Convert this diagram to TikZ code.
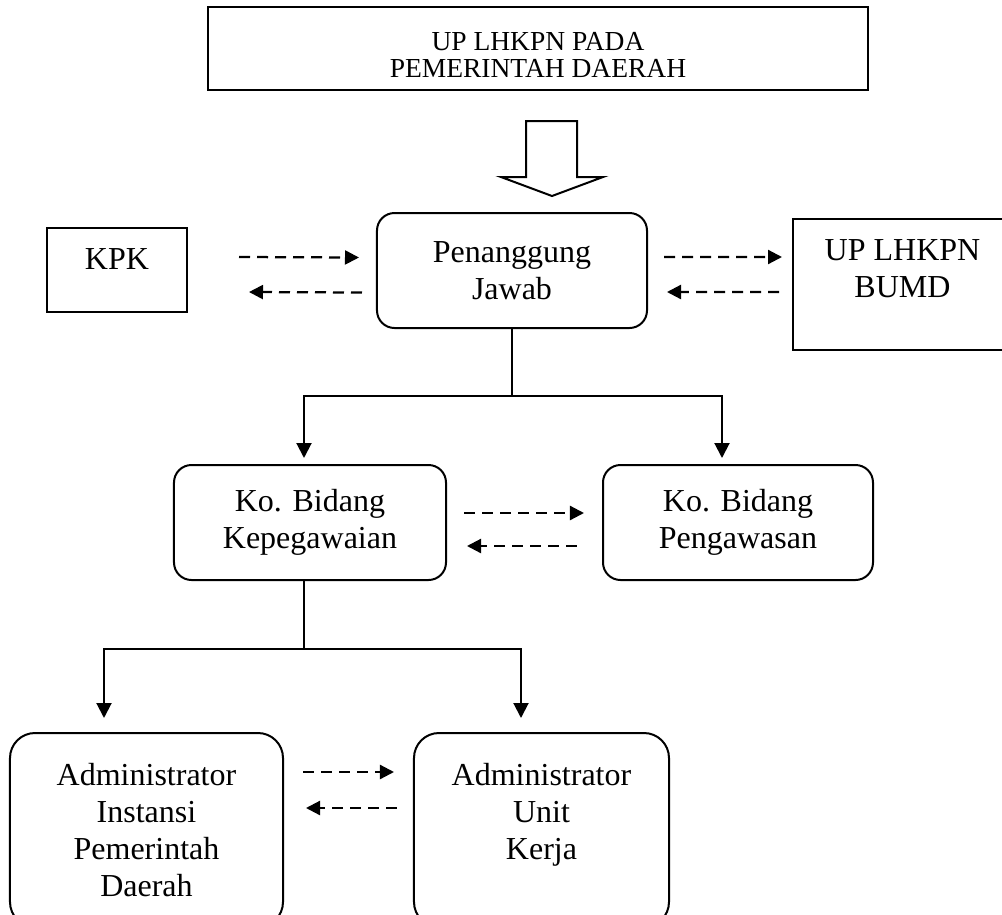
\documentclass[tikz,border=0pt]{standalone}
\usepackage{fontspec}
\setmainfont{Liberation Serif}
\usetikzlibrary{arrows.meta}
\newcommand{\topbox}[4]{\parbox[c][#1][t]{#2}{\centering\vspace*{#3}#4}}

\begin{document}
\begin{tikzpicture}[x=0.4pt,y=-0.4pt,%
    txt/.style={font=\fontsize{12.8}{14.8}\selectfont},%
    box/.style={txt,draw,line width=0.8pt,inner sep=0pt},%
    rbox/.style={txt,draw,line width=0.8pt,rounded corners=7pt,align=center},%
    tree/.style={line width=0.8pt},%
    tip/.style={tree,-{Triangle[length=6pt,width=6pt]}},%
    dashto/.style={line width=0.9pt,dash pattern=on 4.4pt off 2.8pt,%
      -{Triangle[length=5.6pt,width=5.6pt]}},%
    hollow/.style={line width=0.8pt,line join=miter}%
    ]
    \useasboundingbox (0,0) rectangle (1002,915);%
    \clip (0,0) rectangle (1002,915);%
    %% create nodes
    \node[box,font=\fontsize{11}{11}\selectfont] (lhkpn) at (538,48.5)
    {\topbox{33.2pt}{264pt}{10pt}{UP LHKPN PADA\\PEMERINTAH DAERAH}};%
    \node[box] (kpk) at (117,270) {\topbox{33.6pt}{56pt}{8.4pt}{KPK}};%
    \node[box] (bumd) at (902.5,284.5)
    {\topbox{52.4pt}{87.6pt}{8.4pt}{UP LHKPN\\BUMD}};%
    \node[rbox,minimum width=108pt,minimum height=46pt] (pj) at (512,270.5)
    {Penanggung\\Jawab};%
    \node[rbox,minimum width=108.8pt,minimum height=46pt] (kb1) at (310,522.5)
    {Ko. Bidang\\Kepegawaian};%
    \node[rbox,minimum width=108pt,minimum height=46pt] (kb2) at (738,522.5)
    {Ko. Bidang\\Pengawasan};%
    \node[rbox,rounded corners=10pt,minimum width=109.2pt,minimum height=77.6pt]
    (adm1) at (146.5,830) {Administrator\\Instansi\\Pemerintah\\Daerah};%
    \node[rbox,rounded corners=10pt,minimum width=102pt,minimum height=77.6pt]
    (adm2) at (541.5,830) {Administrator\\Unit\\Kerja\\\vphantom{Daerah}};%
    %% hollow arrow
    \draw[hollow] (526,121) -- (577,121) -- (577,177) -- (603,177) --
    (552,196) -- (501,177) -- (526,177) -- cycle;%
    %% tree lines
    \draw[tree] (pj.south) -- ++(0,67) coordinate (j1);%
    \draw[tip,shorten >=2.4pt] (j1) -| ([xshift=-2.4pt]kb1.north);%
    \draw[tip,shorten >=2.4pt] (j1) -| ([xshift=-6.4pt]kb2.north);%
    \draw[tree] ([xshift=-2.4pt]kb1.south) -- ++(0,68) coordinate (j2);%
    \draw[tip,shorten >=5.6pt] (j2) -| ([xshift=-17pt]adm1.north);%
    \draw[tip,shorten >=5.6pt] (j2) -| ([xshift=-8.2pt]adm2.north);%
    %% dashed pairs
    \draw[dashto] ([xshift=20.4pt,yshift=5.2pt]kpk.east) --
    ([xshift=-6.8pt,yshift=5.2pt]pj.west);%
    \draw[dashto] ([xshift=-5.6pt,yshift=-8.8pt]pj.west) --
    ([xshift=24.4pt,yshift=-8.8pt]kpk.east);%
    \draw[dashto] ([xshift=6.4pt,yshift=5.4pt]pj.east) --
    ([xshift=-4pt,yshift=11pt]bumd.west);%
    \draw[dashto] ([xshift=-5.2pt,yshift=-3pt]bumd.west) --
    ([xshift=7.6pt,yshift=-8.6pt]pj.east);%
    \draw[dashto] ([xshift=6.8pt,yshift=3.8pt]kb1.east) --
    ([xshift=-7.2pt,yshift=3.8pt]kb2.west);%
    \draw[dashto] ([xshift=-10pt,yshift=-9.4pt]kb2.west) --
    ([xshift=8pt,yshift=-9.4pt]kb1.east);%
    \draw[dashto] ([xshift=7.6pt,yshift=23.2pt]adm1.east) --
    ([xshift=-7.6pt,yshift=23.2pt]adm2.west);%
    \draw[dashto] ([xshift=-6.4pt,yshift=8.8pt]adm2.west) --
    ([xshift=8.8pt,yshift=8.8pt]adm1.east);%
\end{tikzpicture}
\end{document}
